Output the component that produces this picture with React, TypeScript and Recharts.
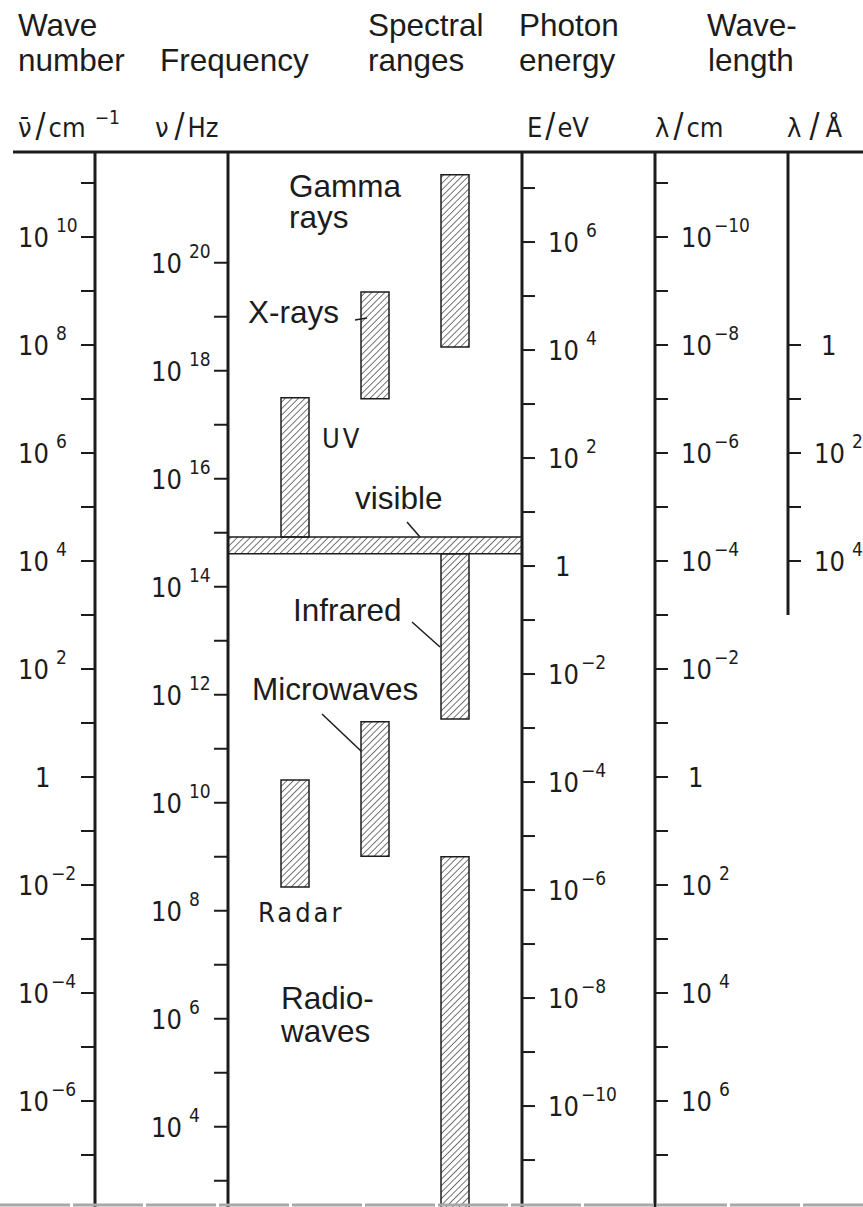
import React from 'react';
import { ComposedChart, Bar, XAxis, YAxis, ReferenceArea } from 'recharts';

// ---------------- data ----------------
// spectral lanes inside the "Spectral ranges" box
const lanes = ['A', 'B', 'C'];
// spectral ranges as log10(frequency / Hz): [low, high]
const upperRanges: [number, number][] = [[14.92, 17.5], [17.48, 19.46], [18.44, 21.63]]; // UV, X-rays, Gamma rays
const lowerRanges: [number, number][] = [[8.44, 10.42], [9.01, 11.5], [11.55, 14.61]]; // Radar, Microwaves, Infrared
const radioRanges: ([number, number] | null)[] = [null, null, [2.0, 9.0]]; // Radio waves
const visibleRange: [number, number] = [14.61, 14.92];

// tick exponents (log10 of the axis quantity)
const waveNumberTicks = [11, 10, 9, 8, 7, 6, 5, 4, 3, 2, 1, 0, -1, -2, -3, -4, -5, -6, -7];
const waveNumberLabels = [10, 8, 6, 4, 2, 0, -2, -4, -6];
const frequencyTicks = [20, 19, 18, 17, 16, 15, 14, 13, 12, 11, 10, 9, 8, 7, 6, 5, 4, 3];
const frequencyLabels = [20, 18, 16, 14, 12, 10, 8, 6, 4];
const energyTicks = [7, 6, 5, 4, 3, 2, 1, 0, -1, -2, -3, -4, -5, -6, -7, -8, -9, -10, -11];
const energyLabels = [6, 4, 2, 0, -2, -4, -6, -8, -10];
const wavelengthCmTicks = [-11, -10, -9, -8, -7, -6, -5, -4, -3, -2, -1, 0, 1, 2, 3, 4, 5, 6, 7];
const wavelengthCmLabels = [-10, -8, -6, -4, -2, 0, 2, 4, 6];
const wavelengthATicks = [0, 1, 2, 3, 4];
const wavelengthALabels = [0, 2, 4];
const wavelengthAEnd = 5; // the Å scale stops at 10^5 Å

// physical constants linking the scales
const LOG_C = Math.log10(2.99792458e10); // cm/s : nu = c * wavenumber
const LOG_CM_PER_EV = Math.log10(8065.544); // cm^-1 per eV
const LOG_CM_PER_A = 8; // 1 cm = 1e8 Å

// visible window of the common scale, log10(wavenumber / cm^-1)
const WN_TOP = 11.574;
const WN_BOTTOM = -7.963;

// ---------------- layout / style ----------------
const W = 863;
const H = 1207;
const INK = '#1c1c1c';
const HEAD_FONT = "'Liberation Sans', Arial, Helvetica, sans-serif";
const DIN_FONT = "'Liberation Sans Narrow', 'DejaVu Sans Condensed', 'Roboto Condensed', 'DejaVu Sans', sans-serif";
const HEAD_SIZE = 31.5;
const TICK_SIZE = 27;
const EXP_SIZE = 19;

const chartData = lanes.map((lane, i) => ({
  lane,
  upper: upperRanges[i],
  lower: lowerRanges[i],
  radio: radioRanges[i],
}));

function makeTick(labels: number[], startDx: number, oneDx: number) {
  return (props: any) => {
    const { x, y, payload } = props;
    const v = Math.round(Number(payload.value));
    if (!labels.includes(v)) return <g />;
    const sx = x + startDx;
    if (v === 0) {
      return (
        <text x={sx + oneDx} y={y + 10} fontFamily={DIN_FONT} fontSize={TICK_SIZE} fill={INK}>
          1
        </text>
      );
    }
    const exp = v < 0 ? `\u2212${-v}` : `${v}`;
    return (
      <text x={sx} y={y + 10} fontFamily={DIN_FONT} fontSize={TICK_SIZE} fill={INK}>
        10
        <tspan dx={v < 0 ? 2 : 7} dy={-15} fontSize={EXP_SIZE}>
          {exp}
        </tspan>
      </text>
    );
  };
}

const axisLine = { stroke: INK, strokeWidth: 3 };
const tickLine = { stroke: INK, strokeWidth: 2 };

export default function App() {
  const plotHeight = H - 152;
  const pxPerDecade = plotHeight / (WN_TOP - WN_BOTTOM);
  // Å axis line length: from top down to 10^wavelengthAEnd Å
  const aLineLen = (WN_TOP - (LOG_CM_PER_A - wavelengthAEnd)) * pxPerDecade;

  const headers: [string, number, number][] = [
    ['Wave', 18, 36],
    ['number', 18, 71],
    ['Frequency', 160, 71],
    ['Spectral', 368, 36],
    ['ranges', 368, 71],
    ['Photon', 519, 36],
    ['energy', 519, 71],
    ['Wave-', 707, 36],
    ['length', 708, 71],
  ];
  const notes: [string, number, number][] = [
    ['Gamma', 289, 197],
    ['rays', 289, 228],
    ['X-rays', 248, 323],
    ['visible', 355, 509],
    ['Infrared', 293, 621],
    ['Microwaves', 252, 700],
    ['Radio-', 281, 1009],
    ['waves', 281, 1042],
  ];
  const leaders: [number, number, number, number][] = [
    [355, 320, 367, 318],
    [407, 522, 420, 537],
    [412, 622, 440, 647],
    [322, 714, 361, 751],
  ];

  return (
    <div style={{ position: 'absolute', left: 0, top: 0, width: W, height: H, background: '#fff', overflow: 'hidden' }}>
      <svg width={0} height={0} style={{ position: 'absolute' }}>
        <defs>
          <pattern id="hatch" patternUnits="userSpaceOnUse" width={4.6} height={4.6} patternTransform="rotate(45)">
            <line x1={0} y1={0} x2={0} y2={4.6} stroke="#2a2a2a" strokeWidth={1.3} />
          </pattern>
        </defs>
      </svg>
      <div style={{ position: 'absolute', left: 0, top: 0 }}>
        <ComposedChart width={W} height={H} data={chartData} margin={{ top: 152, right: 0, bottom: 0, left: 13 }}>
          <XAxis xAxisId="full" dataKey="lane" type="category" hide />
          <XAxis xAxisId="u" dataKey="lane" type="category" hide padding={{ left: 27, right: 27 }} />
          <XAxis xAxisId="l" dataKey="lane" type="category" hide padding={{ left: 27, right: 27 }} />
          <XAxis xAxisId="r" dataKey="lane" type="category" hide padding={{ left: 27, right: 27 }} />

          <YAxis
            yAxisId="a1freq"
            orientation="left"
            width={133}
            type="number"
            domain={[WN_BOTTOM + LOG_C, WN_TOP + LOG_C]}
            allowDataOverflow
            ticks={frequencyTicks}
            interval={0}
            tickSize={14}
            tickMargin={0}
            axisLine={axisLine}
            tickLine={tickLine}
            tick={makeTick(frequencyLabels, -63, 16)}
          />
          <YAxis
            yAxisId="a2wn"
            orientation="left"
            width={82}
            type="number"
            domain={[WN_BOTTOM, WN_TOP]}
            allowDataOverflow
            ticks={waveNumberTicks}
            interval={0}
            tickSize={14}
            tickMargin={0}
            axisLine={axisLine}
            tickLine={tickLine}
            tick={makeTick(waveNumberLabels, -63, 17)}
          />
          <YAxis
            yAxisId="b1energy"
            orientation="right"
            width={133}
            type="number"
            domain={[WN_BOTTOM - LOG_CM_PER_EV, WN_TOP - LOG_CM_PER_EV]}
            allowDataOverflow
            ticks={energyTicks}
            interval={0}
            tickSize={13}
            tickMargin={0}
            axisLine={axisLine}
            tickLine={tickLine}
            tick={makeTick(energyLabels, 13, 7)}
          />
          <YAxis
            yAxisId="b2lcm"
            orientation="right"
            width={133}
            type="number"
            reversed
            domain={[-WN_TOP, -WN_BOTTOM]}
            allowDataOverflow
            ticks={wavelengthCmTicks}
            interval={0}
            tickSize={13}
            tickMargin={0}
            axisLine={axisLine}
            tickLine={tickLine}
            tick={makeTick(wavelengthCmLabels, 13, 7)}
          />
          <YAxis
            yAxisId="b3la"
            orientation="right"
            width={75}
            type="number"
            reversed
            domain={[LOG_CM_PER_A - WN_TOP, LOG_CM_PER_A - WN_BOTTOM]}
            allowDataOverflow
            ticks={wavelengthATicks}
            interval={0}
            tickSize={13}
            tickMargin={0}
            axisLine={{ ...axisLine, strokeDasharray: `${aLineLen} 3000` }}
            tickLine={tickLine}
            tick={makeTick(wavelengthALabels, 13, 7)}
          />

          <Bar xAxisId="u" yAxisId="a1freq" dataKey="upper" barSize={28} fill="url(#hatch)" stroke={INK} strokeWidth={1.5} isAnimationActive={false} />
          <Bar xAxisId="l" yAxisId="a1freq" dataKey="lower" barSize={28} fill="url(#hatch)" stroke={INK} strokeWidth={1.5} isAnimationActive={false} />
          <Bar xAxisId="r" yAxisId="a1freq" dataKey="radio" barSize={28} fill="url(#hatch)" stroke={INK} strokeWidth={1.5} isAnimationActive={false} />
          <ReferenceArea
            xAxisId="full"
            yAxisId="a1freq"
            y1={visibleRange[0]}
            y2={visibleRange[1]}
            fill="url(#hatch)"
            fillOpacity={1}
            stroke={INK}
            strokeWidth={1.5}
            ifOverflow="visible"
          />
        </ComposedChart>
      </div>
      <svg width={W} height={H} style={{ position: 'absolute', left: 0, top: 0, pointerEvents: 'none' }}>
        <line x1={13} y1={152} x2={W} y2={152} stroke={INK} strokeWidth={3} />
        <line x1={0} y1={1205} x2={W} y2={1205} stroke="#a8a8a8" strokeWidth={3} strokeDasharray="70 3" />
        {headers.map(([t, x, y]) => (
          <text key={t + y} x={x} y={y} fontFamily={HEAD_FONT} fontSize={HEAD_SIZE} fill={INK}>
            {t}
          </text>
        ))}
        {notes.map(([t, x, y]) => (
          <text key={t} x={x} y={y} fontFamily={HEAD_FONT} fontSize={HEAD_SIZE} fill={INK}>
            {t}
          </text>
        ))}
        <text x={322} y={448} fontFamily={DIN_FONT} fontSize={TICK_SIZE} letterSpacing={3} fill={INK}>UV</text>
        <text x={258} y={922} fontFamily={DIN_FONT} fontSize={TICK_SIZE} letterSpacing={3} fill={INK}>Radar</text>
        {leaders.map(([x1, y1, x2, y2], i) => (
          <line key={i} x1={x1} y1={y1} x2={x2} y2={y2} stroke={INK} strokeWidth={1.5} />
        ))}
        {/* unit labels */}
        <text x={18} y={137} fontFamily={DIN_FONT} fontSize={TICK_SIZE} fill={INK}>
          {'\u03BD\u0304'}
          <tspan dx={4} fontSize={33}>/</tspan>
          <tspan dx={3}>cm</tspan>
          <tspan dx={9} dy={-13} fontSize={EXP_SIZE}>{'\u22121'}</tspan>
        </text>
        <text x={155} y={137} fontFamily={DIN_FONT} fontSize={TICK_SIZE} fill={INK}>
          {'\u03BD'}
          <tspan dx={6} fontSize={33}>/</tspan>
          <tspan dx={3}>Hz</tspan>
        </text>
        <text x={527} y={137} fontFamily={DIN_FONT} fontSize={TICK_SIZE} fill={INK}>
          E<tspan dx={3} fontSize={33}>/</tspan>
          <tspan dx={2}>eV</tspan>
        </text>
        <text x={655} y={137} fontFamily={DIN_FONT} fontSize={TICK_SIZE} fill={INK}>
          {'\u03BB'}
          <tspan dx={4} fontSize={33}>/</tspan>
          <tspan dx={3}>cm</tspan>
        </text>
        <text x={787} y={137} fontFamily={DIN_FONT} fontSize={TICK_SIZE} fill={INK}>
          {'\u03BB'}
          <tspan dx={8} fontSize={33}>/</tspan>
          <tspan dx={6}>{'\u00C5'}</tspan>
        </text>
      </svg>
    </div>
  );
}
